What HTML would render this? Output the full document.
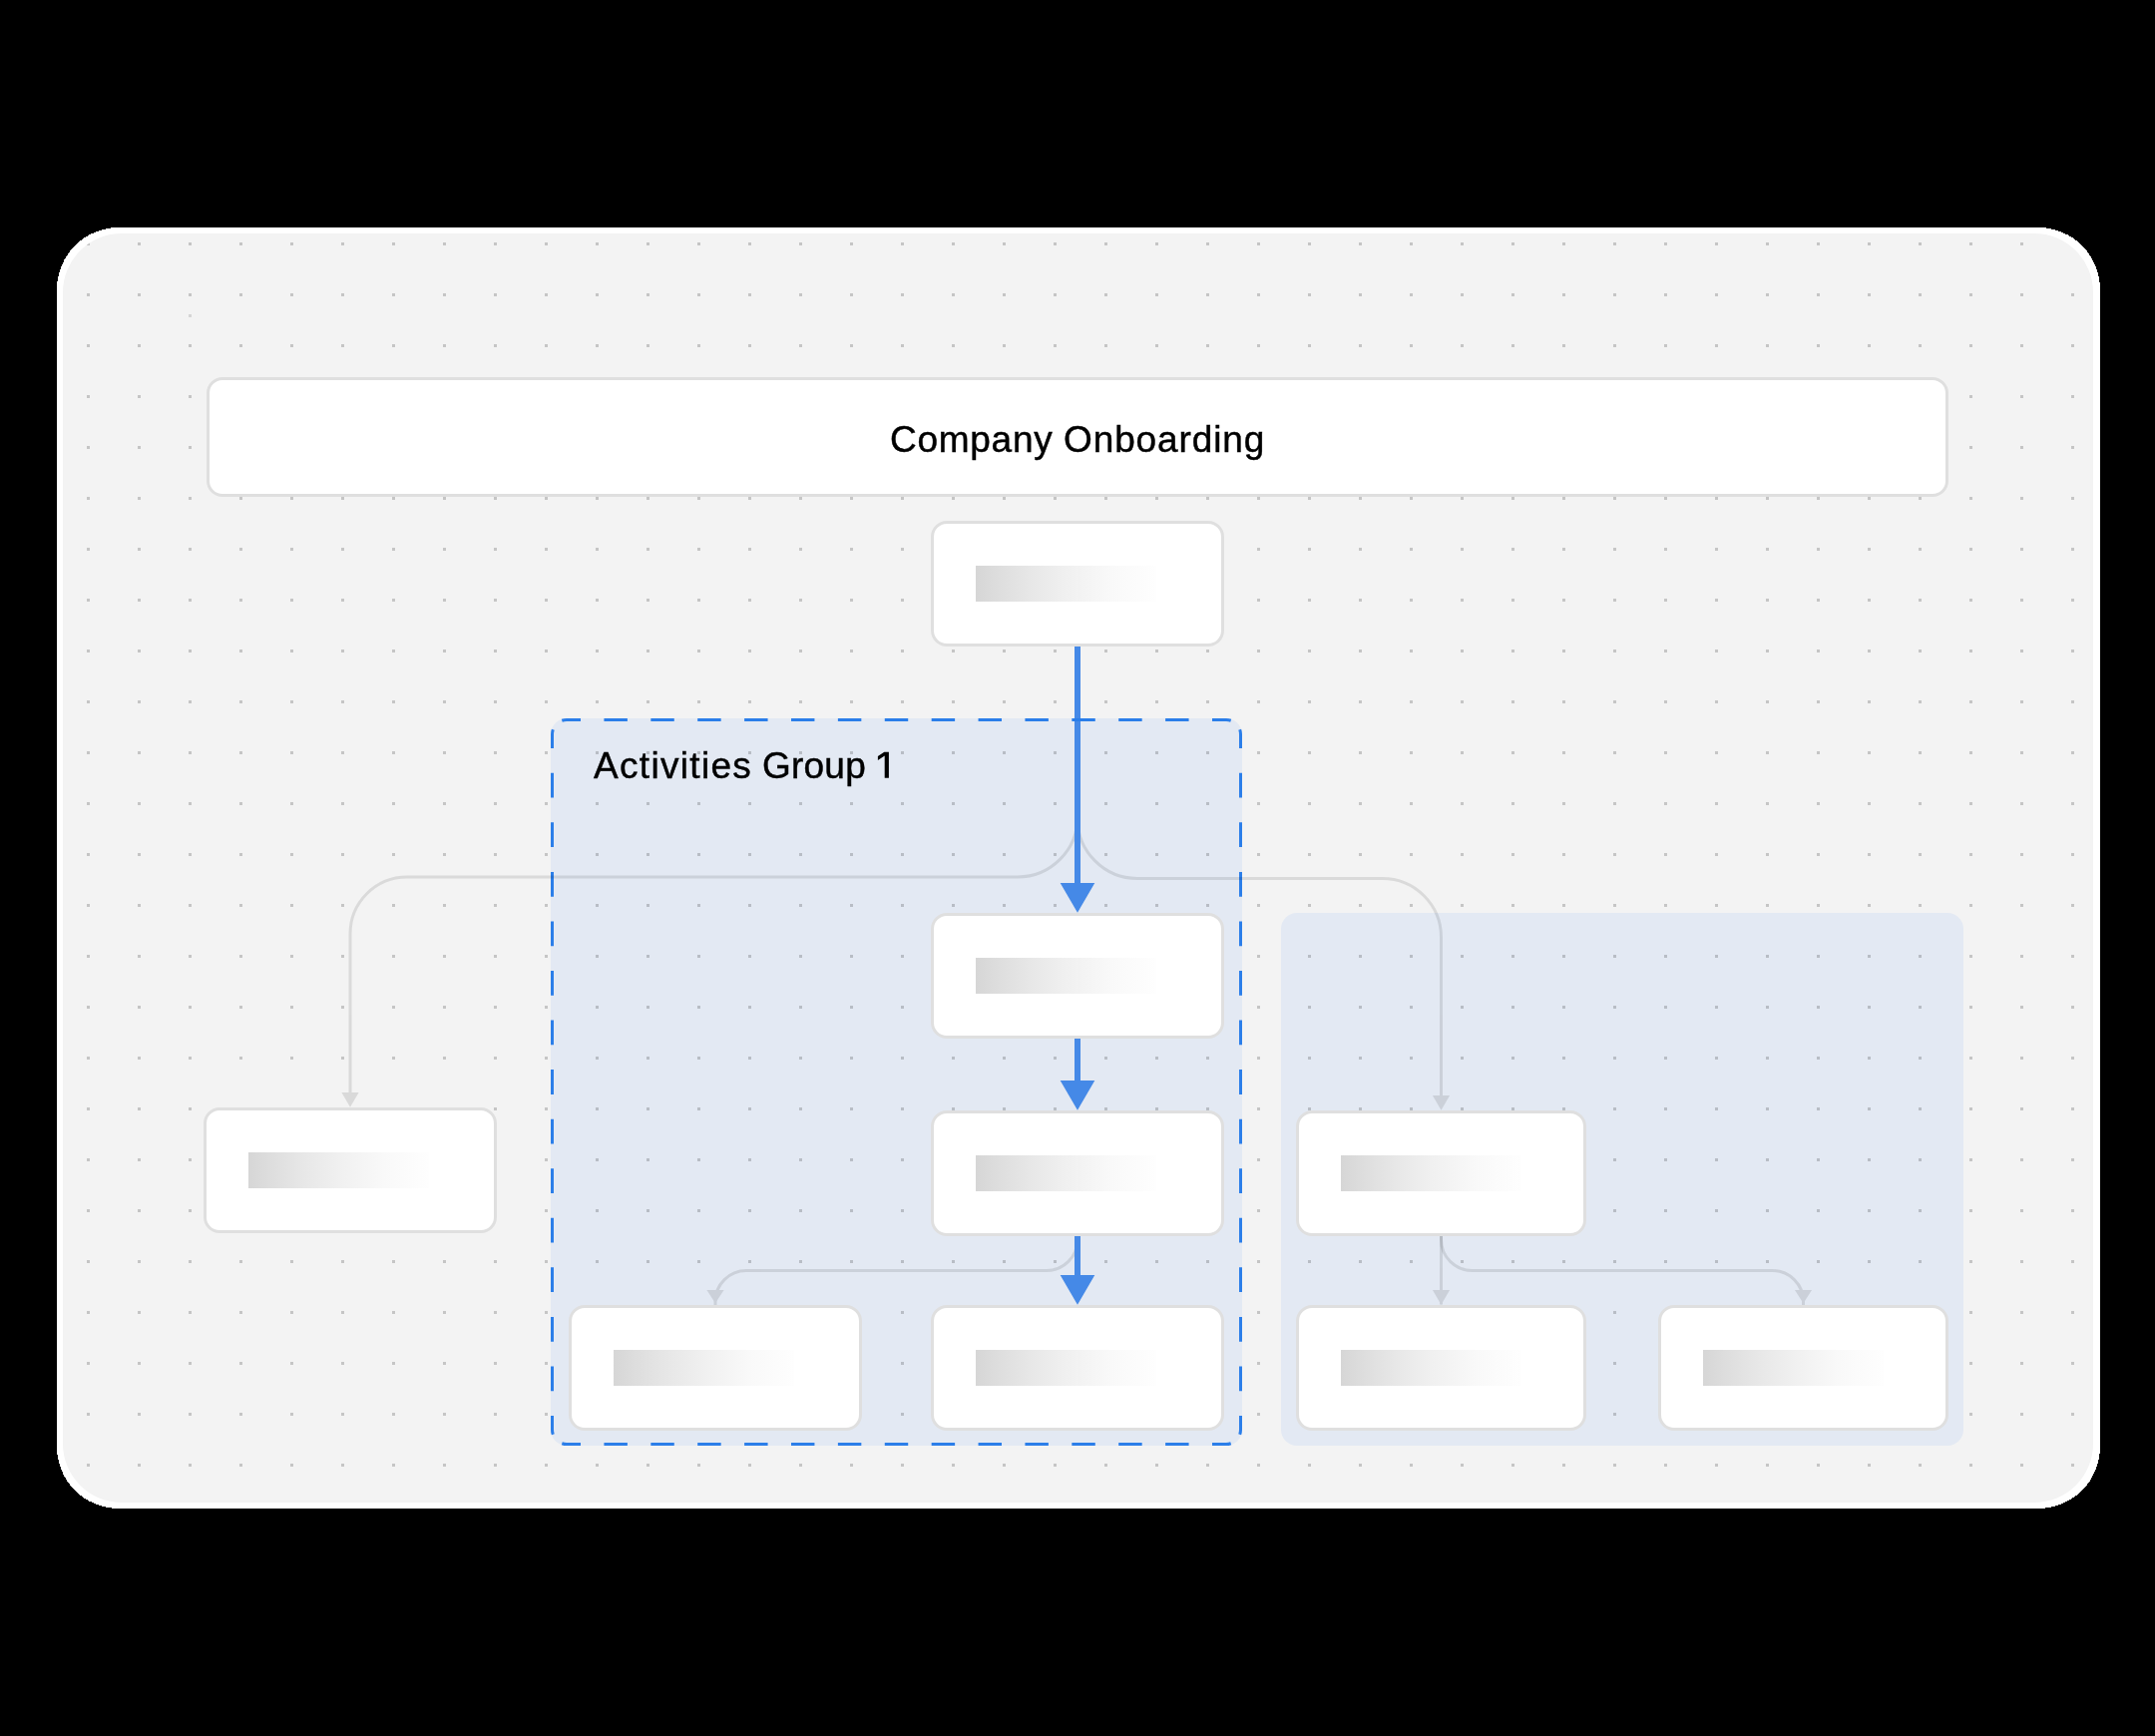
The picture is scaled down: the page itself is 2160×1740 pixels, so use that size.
<!DOCTYPE html>
<html><head><meta charset="utf-8"><title>Company Onboarding</title><style>
html,body{margin:0;padding:0;background:#000;width:2160px;height:1740px;overflow:hidden}
.t{position:absolute;font-family:"Liberation Sans",sans-serif;font-size:37px;color:#000;white-space:nowrap;line-height:1;will-change:transform;-webkit-text-stroke:0.45px #000}
</style></head><body>
<svg width="2160" height="1740" viewBox="0 0 2160 1740" style="position:absolute;left:0;top:0"><defs><clipPath id="cardclip"><rect x="63" y="234" width="2035" height="1272" rx="59" ry="59"/></clipPath><clipPath id="notrunk"><path clip-rule="evenodd" d="M0,0 H2160 V1740 H0 Z M1077,640 H1083 V890 H1077 Z M1077,1236 H1083 V1282 H1077 Z"/></clipPath><pattern id="dots" patternUnits="userSpaceOnUse" x="87" y="243" width="51" height="51"><rect x="0" y="0" width="3" height="3" fill="rgba(0,0,0,0.19)"/></pattern><linearGradient id="bar" x1="0" x2="1" y1="0" y2="0"><stop offset="0" stop-color="#d6d6d6"/><stop offset="0.1" stop-color="#dcdcdc"/><stop offset="0.3" stop-color="#e7e7e7"/><stop offset="0.5" stop-color="#f0f0f0"/><stop offset="0.75" stop-color="#f9f9f9"/><stop offset="1" stop-color="#fefefe"/></linearGradient></defs><rect x="57" y="228" width="2048" height="1284" rx="62" ry="62" fill="#ffffff" shape-rendering="crispEdges"/><rect x="63" y="234" width="2035" height="1272" rx="59" ry="59" fill="#f3f3f3"/><rect x="552" y="720" width="693" height="729" rx="16" ry="16" fill="#e3e9f3"/><rect x="1284" y="915" width="684" height="534" rx="16" ry="16" fill="#e3e9f3"/><g clip-path="url(#cardclip)"><rect x="63" y="234" width="2035" height="1272" fill="url(#dots)"/><rect x="189" y="315" width="3" height="3" fill="rgba(0,0,0,0.12)"/></g><rect x="208.5" y="379.5" width="1743" height="117" rx="14.5" ry="14.5" fill="#ffffff" stroke="#dfdfdf" stroke-width="3"/><g fill="#4589e7"><rect x="1077" y="648" width="6" height="239"/><polygon points="1062.7,885 1097.3,885 1080,914.7"/><rect x="1077" y="1041" width="6" height="44"/><polygon points="1062.7,1083 1097.3,1083 1080,1112.7"/><rect x="1077" y="1239" width="6" height="41"/><polygon points="1062.7,1278 1097.3,1278 1080,1307.7"/></g><path d="M582,721.5 L568,721.5 A14.5,14.5 0 0 0 563.28,722.29 M553.5,750 L553.5,736 A14.5,14.5 0 0 1 554.29,731.28 M1215,721.5 L1229,721.5 A14.5,14.5 0 0 1 1233.72,722.29 M1243.5,750 L1243.5,736 A14.5,14.5 0 0 0 1242.71,731.28 M1215,1447.5 L1229,1447.5 A14.5,14.5 0 0 0 1233.72,1446.71 M1243.5,1419 L1243.5,1433 A14.5,14.5 0 0 1 1242.71,1437.72 M582,1447.5 L568,1447.5 A14.5,14.5 0 0 1 563.28,1446.71 M553.5,1419 L553.5,1433 A14.5,14.5 0 0 0 554.29,1437.72 M605.44,721.5 L628.89,721.5 M605.44,1447.5 L628.89,1447.5 M652.33,721.5 L675.78,721.5 M652.33,1447.5 L675.78,1447.5 M699.22,721.5 L722.67,721.5 M699.22,1447.5 L722.67,1447.5 M746.11,721.5 L769.56,721.5 M746.11,1447.5 L769.56,1447.5 M793.00,721.5 L816.44,721.5 M793.00,1447.5 L816.44,1447.5 M839.89,721.5 L863.33,721.5 M839.89,1447.5 L863.33,1447.5 M886.78,721.5 L910.22,721.5 M886.78,1447.5 L910.22,1447.5 M933.67,721.5 L957.11,721.5 M933.67,1447.5 L957.11,1447.5 M980.56,721.5 L1004.00,721.5 M980.56,1447.5 L1004.00,1447.5 M1027.44,721.5 L1050.89,721.5 M1027.44,1447.5 L1050.89,1447.5 M1074.33,721.5 L1097.78,721.5 M1074.33,1447.5 L1097.78,1447.5 M1121.22,721.5 L1144.67,721.5 M1121.22,1447.5 L1144.67,1447.5 M1168.11,721.5 L1191.56,721.5 M1168.11,1447.5 L1191.56,1447.5 M553.5,774.78 L553.5,799.56 M1243.5,774.78 L1243.5,799.56 M553.5,824.33 L553.5,849.11 M1243.5,824.33 L1243.5,849.11 M553.5,873.89 L553.5,898.67 M1243.5,873.89 L1243.5,898.67 M553.5,923.44 L553.5,948.22 M1243.5,923.44 L1243.5,948.22 M553.5,973.00 L553.5,997.78 M1243.5,973.00 L1243.5,997.78 M553.5,1022.56 L553.5,1047.33 M1243.5,1022.56 L1243.5,1047.33 M553.5,1072.11 L553.5,1096.89 M1243.5,1072.11 L1243.5,1096.89 M553.5,1121.67 L553.5,1146.44 M1243.5,1121.67 L1243.5,1146.44 M553.5,1171.22 L553.5,1196.00 M1243.5,1171.22 L1243.5,1196.00 M553.5,1220.78 L553.5,1245.56 M1243.5,1220.78 L1243.5,1245.56 M553.5,1270.33 L553.5,1295.11 M1243.5,1270.33 L1243.5,1295.11 M553.5,1319.89 L553.5,1344.67 M1243.5,1319.89 L1243.5,1344.67 M553.5,1369.44 L553.5,1394.22 M1243.5,1369.44 L1243.5,1394.22" fill="none" stroke="#2b7ee9" stroke-width="3"/><g clip-path="url(#notrunk)"><g opacity="0.1"><path d="M1080,648 L1080,819 A60,60 0 0 1 1020,879 L408,879 A57,57 0 0 0 351,936 L351,1104" fill="none" stroke="#000" stroke-width="3"/><g fill="#000"><polygon points="342.4,1095 359.6,1095 351,1109.7"/></g></g></g><g clip-path="url(#notrunk)"><g opacity="0.1"><path d="M1080,648 L1080,820.5 A60,60 0 0 0 1140,880.5 L1385.5,880.5 A59,59 0 0 1 1444.5,939.5 L1444.5,1107" fill="none" stroke="#000" stroke-width="3"/><g fill="#000"><polygon points="1435.9,1098 1453.1,1098 1444.5,1112.7"/></g></g></g><g clip-path="url(#notrunk)"><g opacity="0.1"><path d="M1080,1239 L1080,1242.5 A31,31 0 0 1 1049,1273.5 L748,1273.5 A31,31 0 0 0 717,1304.5 L717,1308" fill="none" stroke="#000" stroke-width="3"/><g fill="#000"><polygon points="708.4,1293 725.6,1293 717,1306.3"/></g></g></g><g><g opacity="0.1"><path d="M1444.5,1239 L1444.5,1307.5" fill="none" stroke="#000" stroke-width="3"/><g fill="#000"><polygon points="1435.9,1293 1453.1,1293 1444.5,1307.7"/></g></g></g><g><g opacity="0.1"><path d="M1444.5,1239 L1444.5,1242.5 A31,31 0 0 0 1475.5,1273.5 L1776.5,1273.5 A31,31 0 0 1 1807.5,1304.5 L1807.5,1308" fill="none" stroke="#000" stroke-width="3"/><g fill="#000"><polygon points="1798.9,1293 1816.1,1293 1807.5,1306.3"/></g></g></g><rect x="934.5" y="523.5" width="291" height="123" rx="14.5" ry="14.5" fill="#ffffff" stroke="#dfdfdf" stroke-width="3"/><rect x="978" y="567" width="181" height="36" fill="url(#bar)"/><rect x="934.5" y="916.5" width="291" height="123" rx="14.5" ry="14.5" fill="#ffffff" stroke="#dfdfdf" stroke-width="3"/><rect x="978" y="960" width="181" height="36" fill="url(#bar)"/><rect x="934.5" y="1114.5" width="291" height="123" rx="14.5" ry="14.5" fill="#ffffff" stroke="#dfdfdf" stroke-width="3"/><rect x="978" y="1158" width="181" height="36" fill="url(#bar)"/><rect x="571.5" y="1309.5" width="291" height="123" rx="14.5" ry="14.5" fill="#ffffff" stroke="#dfdfdf" stroke-width="3"/><rect x="615" y="1353" width="181" height="36" fill="url(#bar)"/><rect x="934.5" y="1309.5" width="291" height="123" rx="14.5" ry="14.5" fill="#ffffff" stroke="#dfdfdf" stroke-width="3"/><rect x="978" y="1353" width="181" height="36" fill="url(#bar)"/><rect x="205.5" y="1111.5" width="291" height="123" rx="14.5" ry="14.5" fill="#ffffff" stroke="#dfdfdf" stroke-width="3"/><rect x="249" y="1155" width="181" height="36" fill="url(#bar)"/><rect x="1300.5" y="1114.5" width="288" height="123" rx="14.5" ry="14.5" fill="#ffffff" stroke="#dfdfdf" stroke-width="3"/><rect x="1344" y="1158" width="181" height="36" fill="url(#bar)"/><rect x="1300.5" y="1309.5" width="288" height="123" rx="14.5" ry="14.5" fill="#ffffff" stroke="#dfdfdf" stroke-width="3"/><rect x="1344" y="1353" width="181" height="36" fill="url(#bar)"/><rect x="1663.5" y="1309.5" width="288" height="123" rx="14.5" ry="14.5" fill="#ffffff" stroke="#dfdfdf" stroke-width="3"/><rect x="1707" y="1353" width="181" height="36" fill="url(#bar)"/><path d="M890.9,753.8 L886.3,753.8 L879.9,758.1 L879.9,761.9 L886.7,757.6 L886.7,779.8 L890.9,779.8 Z" fill="#000"/></svg>
<div class="t" style="left:892.4px;top:422px;letter-spacing:0.73px">Company</div>
<div class="t" style="left:1066.3px;top:422px;letter-spacing:0.89px">Onboarding</div>
<div class="t" style="left:595px;top:749px;letter-spacing:1.32px">Activities</div>
<div class="t" style="left:764px;top:749px;letter-spacing:0.22px">Group</div>
</body></html>
